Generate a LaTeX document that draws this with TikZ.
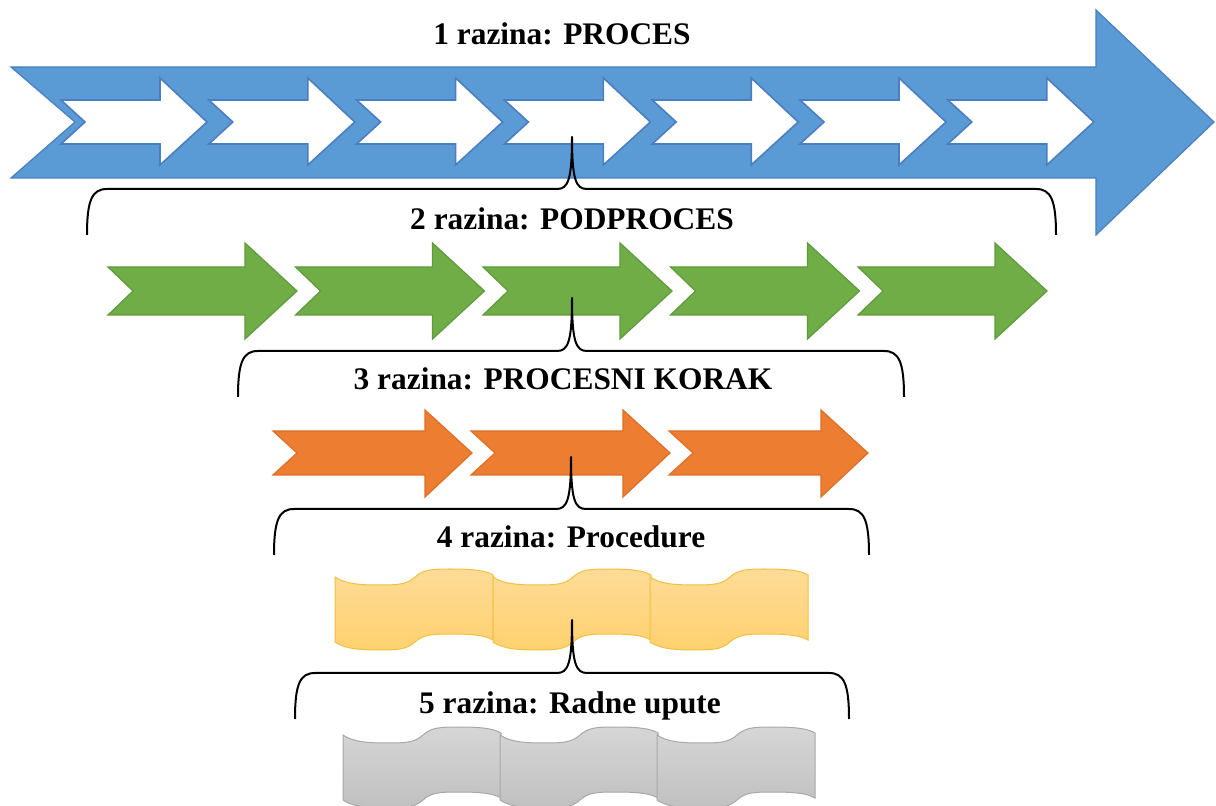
\documentclass[tikz,border=0pt]{standalone}
\usepackage{fontspec}
\setmainfont{Liberation Serif}
\definecolor{blueA}{HTML}{5B9BD5}
\definecolor{blueL}{HTML}{4A7EC0}
\definecolor{greenA}{HTML}{70AD47}
\definecolor{greenL}{HTML}{5E9B3C}
\definecolor{orangeA}{HTML}{ED7D31}
\definecolor{orangeL}{HTML}{DC7028}
\definecolor{yelT}{HTML}{FEDC97}
\definecolor{yelB}{HTML}{FFD16F}
\definecolor{yelL}{HTML}{F2C040}
\definecolor{greyT}{HTML}{D6D6D6}
\definecolor{greyB}{HTML}{C0C0C0}
\definecolor{greyL}{HTML}{A8A8A8}
\newcommand{\mybrace}[5]{%
  \draw[bracestyle] (#1,{#3+46}) .. controls (#1,{#3+11}) and ({#1+5},#3) .. ({#1+20},#3)
    -- ({#4-15},#3) .. controls ({#4-4},#3) and (#4,{#3-9}) .. (#4,#5)
    .. controls (#4,{#3-9}) and ({#4+4},#3) .. ({#4+15},#3)
    -- ({#2-20},#3) .. controls ({#2-5},#3) and (#2,{#3+11}) .. (#2,{#3+46});}
\newcommand{\wseg}[4]{%
  \path[#4] (#1,#2) .. controls ({#1+10},{#2+7}) and ({#1+25},{#2+8}) .. ({#1+45},{#2+8})
    .. controls ({#1+65},{#2+8}) and ({#1+72},{#2+7}) .. ({#1+80},#2)
    .. controls ({#1+88},{#2-7}) and ({#1+95},{#2-8}) .. ({#1+115},{#2-8})
    .. controls ({#1+135},{#2-8}) and ({#1+150},{#2-7}) .. ({#1+158},{#2-2})
    -- ({#1+158},{#3-2})
    .. controls ({#1+150},{#3-7}) and ({#1+135},{#3-8}) .. ({#1+115},{#3-8})
    .. controls ({#1+95},{#3-8}) and ({#1+88},{#3-7}) .. ({#1+80},#3)
    .. controls ({#1+72},{#3+7}) and ({#1+65},{#3+8}) .. ({#1+45},{#3+8})
    .. controls ({#1+25},{#3+8}) and ({#1+10},{#3+7}) .. (#1,#3) -- cycle;}
\begin{document}
\begin{tikzpicture}[x=0.5pt,y=-0.5pt,
  lbl/.style={font=\bfseries\fontsize{15.7pt}{18pt}\selectfont, inner sep=0pt, anchor=base},
  bracestyle/.style={draw=black, line width=1pt, line join=round},
  bigarrow/.style={fill=blueA, draw=blueL, line width=0.6pt},
  whitearrow/.style={fill=white, draw=blueL, line width=0.8pt},
  greenarrow/.style={fill=greenA, draw=greenL, line width=0.6pt},
  orangearrow/.style={fill=orangeA, draw=orangeL, line width=0.6pt},
  yelwave/.style={draw=yelL, top color=yelT, bottom color=yelB, line width=0.5pt},
  greywave/.style={draw=greyL, top color=greyT, bottom color=greyB, line width=0.5pt}]
\useasboundingbox (0,0) rectangle (1216,806);
\fill[white] (0,0) rectangle (1216,806);

% level 1: big blue arrow with white arrows
\draw[bigarrow] (11,67) -- (1096,67) -- (1096,10) -- (1214,122) -- (1096,235) -- (1096,178) -- (11,178) -- (75,122) -- cycle;
\foreach \i in {0,...,6}{
  \pgfmathsetmacro\xo{61+147.8*\i}
  \draw[whitearrow] (\xo,100) -- ({\xo+99},100) -- ({\xo+99},78) -- ({\xo+146},122) -- ({\xo+99},165) -- ({\xo+99},144) -- (\xo,144) -- ({\xo+24},122) -- cycle;
}

% level 2: green arrows
\foreach \i in {0,...,4}{
  \pgfmathsetmacro\xo{108+187.5*\i}
  \draw[greenarrow] (\xo,267) -- ({\xo+137},267) -- ({\xo+137},243) -- ({\xo+189},291) -- ({\xo+137},339) -- ({\xo+137},315) -- (\xo,315) -- ({\xo+25},291) -- cycle;
}

% level 3: orange arrows
\foreach \i in {0,...,2}{
  \pgfmathsetmacro\xo{273+198*\i}
  \draw[orangearrow] (\xo,431) -- ({\xo+152},431) -- ({\xo+152},410) -- ({\xo+199},453) -- ({\xo+152},497) -- ({\xo+152},475) -- (\xo,475) -- ({\xo+24},453) -- cycle;
}

% level 4: yellow waves
\wseg{335}{577}{642}{yelwave}
\wseg{493}{577}{642}{yelwave}
\wseg{650}{577}{642}{yelwave}

% level 5: grey waves
\wseg{343}{735}{800}{greywave}
\wseg{500}{735}{800}{greywave}
\wseg{657}{735}{800}{greywave}

% braces
\mybrace{87}{1056}{189}{572}{137}
\mybrace{238}{904}{351}{572}{298}
\mybrace{274}{869}{509}{571}{457}
\mybrace{295}{849}{673}{572}{620}

% labels
\node[lbl] (t1) at (562,45) {1 razina: PROCES};
\node[lbl] (t2) at (572,230) {2 razina: PODPROCES};
\node[lbl] (t3) at (563,390) {3 razina: PROCESNI KORAK};
\node[lbl] (t4) at (571,548) {4 razina: Procedure};
\node[lbl] (t5) at (570,713) {5 razina: Radne upute};
\end{tikzpicture}
\end{document}
